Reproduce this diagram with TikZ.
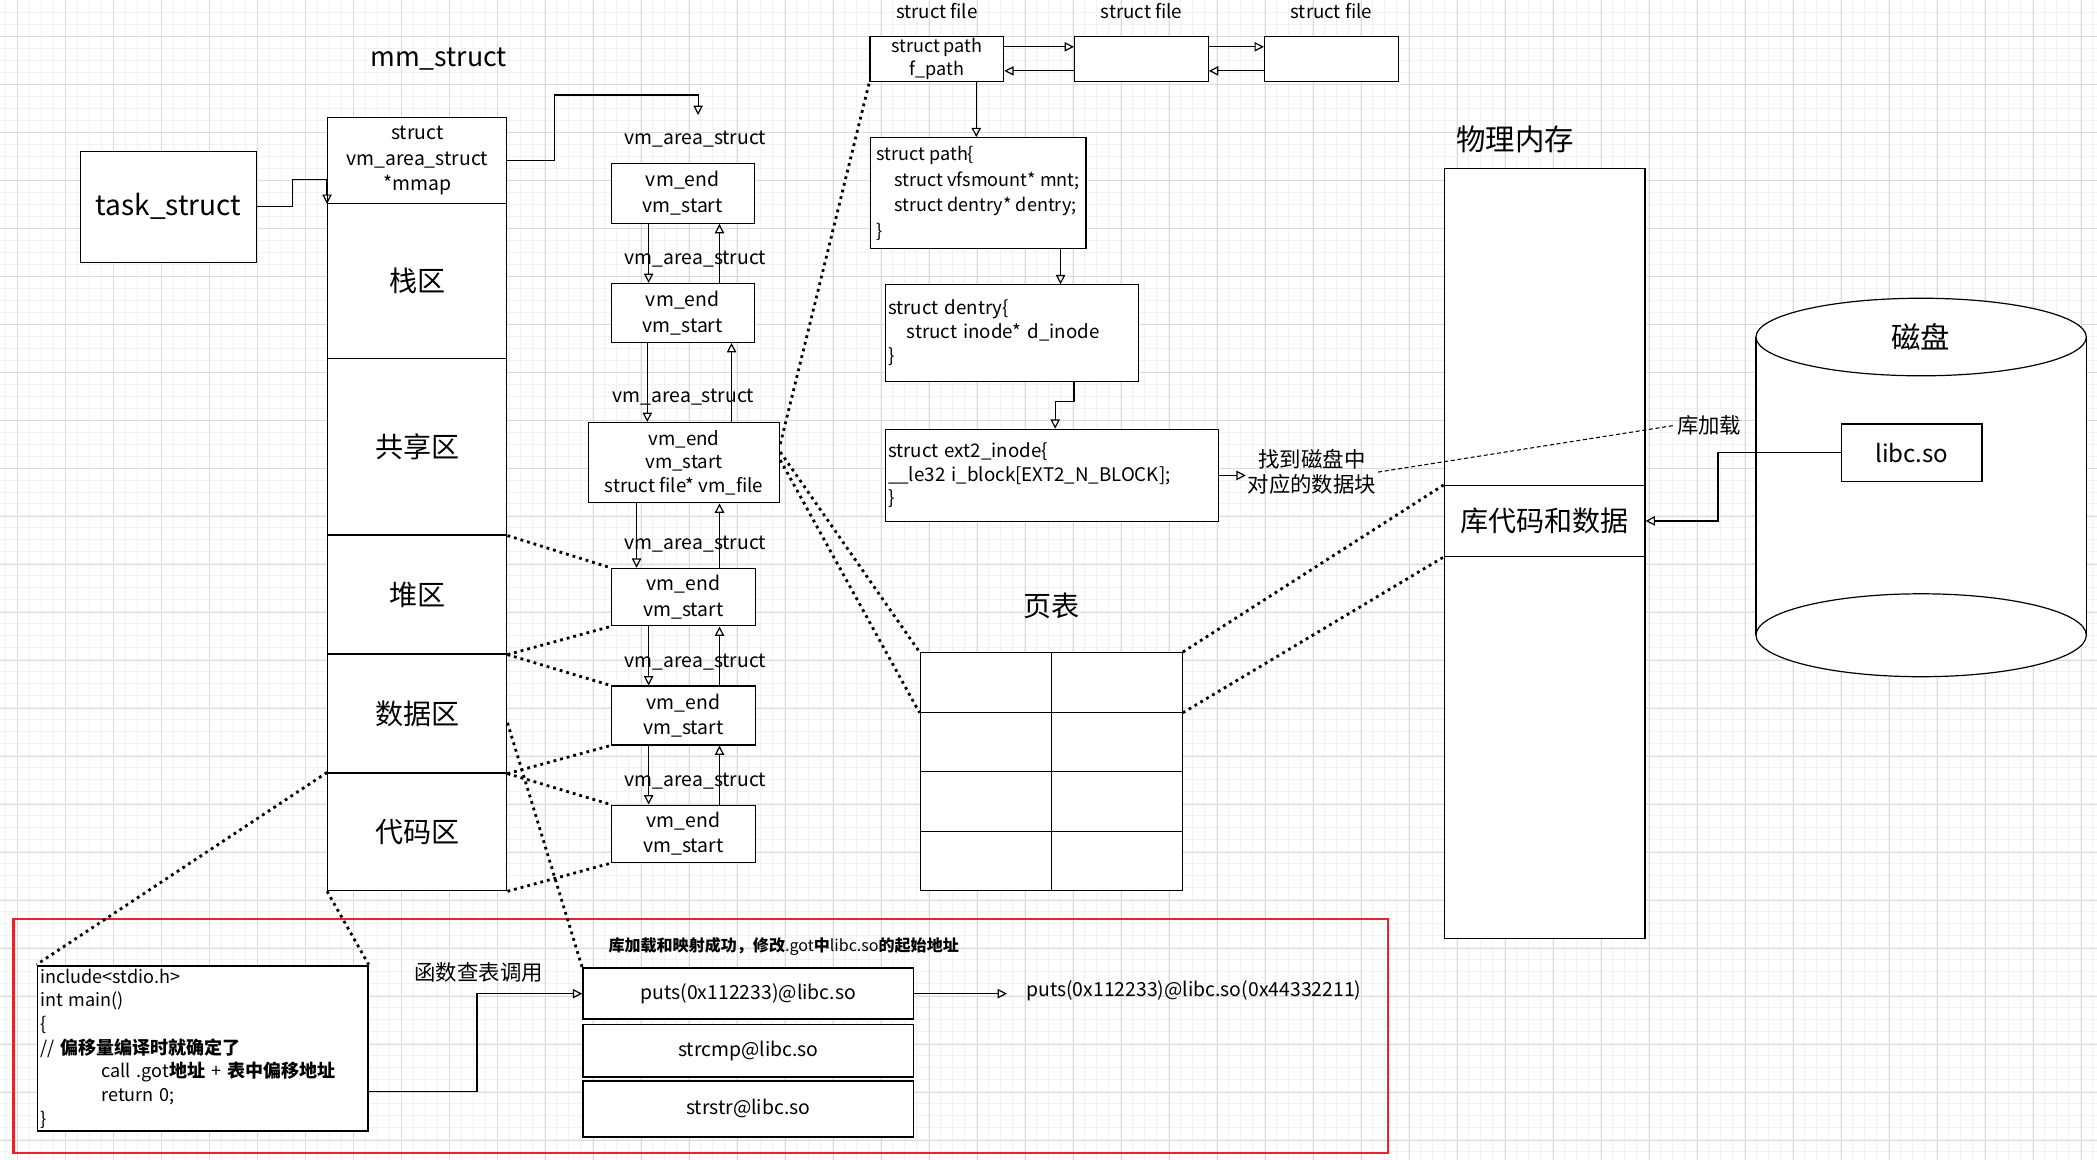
\documentclass[tikz,border=0pt]{standalone}
\usepackage{fontspec}
\setmainfont{Noto Sans CJK SC}
\usepackage{tikz}
\usetikzlibrary{positioning, shapes, arrows.meta}
\usepackage{xcolor}
\definecolor{framered}{HTML}{E8232B}
\newcommand\fsz[2]{\fontsize{#1pt}{#2pt}\selectfont}

\tikzset{
    box/.style={draw,line width=0.9pt,fill=white,inner sep=2pt,align=center},
    thickbox/.style={box,line width=1.4pt},
    codetext/.style={align=left,execute at begin node={\hyphenpenalty=10000}},
    lbl/.style={inner sep=1pt,align=center},
    dots/.style={line width=2.1pt,dash pattern=on 2.1pt off 3pt},
    libdash/.style={line width=0.8pt,dash pattern=on 3pt off 2pt},
    gridmajor/.style={draw=black!14,line width=0.6pt},
    gridminor/.style={draw=black!5,line width=0.5pt},
}

\begin{document}
\begin{tikzpicture}[x=1pt,y=-1pt,>={Triangle[open,length=7pt,width=7pt]},line width=0.9pt]
    \useasboundingbox (0,0) rectangle (1568,867);
    \fill[white] (0,0) rectangle (1568,867);
    \foreach \i in {0,...,174} \draw[gridminor] ({3.73+8.97*\i},0) -- ({3.73+8.97*\i},867);
    \foreach \j in {0,...,95} \draw[gridminor] (0,{8.96+8.97*\j}) -- (1568,{8.96+8.97*\j});
    \foreach \i in {0,...,43} \draw[gridmajor] ({12.7+35.89*\i},0) -- ({12.7+35.89*\i},867);
    \foreach \j in {0,...,23} \draw[gridmajor] (0,{26.9+35.89*\j}) -- (1568,{26.9+35.89*\j});

    % mm_struct
    \node[lbl,font=\fsz{20}{24}] (mmlabel) at (328,44) {mm\_struct};
    \node[box,minimum width=132pt,minimum height=83pt,font=\fsz{21}{24}] (task) at (126,154.5) {task\_struct};
    \node[box,minimum width=134pt,minimum height=64pt,font=\fsz{14.5}{19}] (mmhead) at (312,120) {struct\\vm\_area\_struct\\*mmap};
    \node[box,minimum width=134pt,minimum height=116pt,font=\fsz{21}{24}] (stack) at (312,210) {栈区};
    \node[box,minimum width=134pt,minimum height=132pt,font=\fsz{21}{24}] (shared) at (312,334) {共享区};
    \node[box,minimum width=134pt,minimum height=89pt,font=\fsz{21}{24}] (heap) at (312,444.5) {堆区};
    \node[box,minimum width=134pt,minimum height=89pt,font=\fsz{21}{24}] (data) at (312,533.5) {数据区};
    \node[box,minimum width=134pt,minimum height=88pt,font=\fsz{21}{24}] (code) at (312,622) {代码区};

    % vm_area_struct 链表
    \foreach \n/\y in {1/104,2/194,3/297,4/407,5/495,6/584}
        \node[lbl,font=\fsz{14.5}{17}] (vmlab\n) at ({\n==3 ? 511 : 520},\y) {vm\_area\_struct};
    \node[box,minimum width=107pt,minimum height=45pt,font=\fsz{14.5}{19}] (vm1) at (510.5,144.5) {vm\_end\\vm\_start};
    \node[box,minimum width=107pt,minimum height=44pt,font=\fsz{14.5}{19}] (vm2) at (510.5,234) {vm\_end\\vm\_start};
    \node[box,minimum width=143pt,minimum height=60pt,font=\fsz{14}{17.5}] (vm3) at (511.5,346) {vm\_end\\vm\_start\\struct file* vm\_file};
    \node[box,minimum width=108pt,minimum height=43pt,font=\fsz{14.5}{19}] (vm4) at (511,446.5) {vm\_end\\vm\_start};
    \node[box,minimum width=108pt,minimum height=44pt,font=\fsz{14.5}{19}] (vm5) at (511,535) {vm\_end\\vm\_start};
    \node[box,minimum width=108pt,minimum height=43pt,font=\fsz{14.5}{19}] (vm6) at (511,623.5) {vm\_end\\vm\_start};
    \coordinate (vmin) at (522,86);

    \draw[->] (task.east) -- ++(26,0) |- ([yshift=-14.5pt]mmhead.west) -- (mmhead.south west);
    \draw[->] (mmhead.east) -- ++(35,0) |- ([yshift=15pt]vmin) -- (vmin);
    \draw[->] ([xshift=-25.5pt]vm1.south) -- ([xshift=-25.5pt]vm1.south |- vm2.north);
    \draw[->] ([xshift=27.5pt]vm2.north) -- ([xshift=27.5pt]vm2.north |- vm1.south);
    \draw[->] ([xshift=-26.5pt]vm2.south) -- ([xshift=-26.5pt]vm2.south |- vm3.north);
    \draw[->] ([xshift=35.5pt]vm3.north) -- ([xshift=35.5pt]vm3.north |- vm2.south);
    \draw[->] ([xshift=-35.5pt]vm3.south) -- ([xshift=-35.5pt]vm3.south |- vm4.north);
    \draw[->] ([xshift=27pt]vm4.north) -- ([xshift=27pt]vm4.north |- vm3.south);
    \draw[->] ([xshift=-26pt]vm4.south) -- ([xshift=-26pt]vm4.south |- vm5.north);
    \draw[->] ([xshift=27pt]vm5.north) -- ([xshift=27pt]vm5.north |- vm4.south);
    \draw[->] ([xshift=-26pt]vm5.south) -- ([xshift=-26pt]vm5.south |- vm6.north);
    \draw[->] ([xshift=27pt]vm6.north) -- ([xshift=27pt]vm6.north |- vm5.south);

    % struct file
    \foreach \n/\x in {fA/700.5,fB/853.5,fC/995.5}{
        \node[lbl,font=\fsz{14}{17}] (\n lab) at (\x,8) {struct file};
        \node[box,minimum width=100pt,minimum height=34pt,inner sep=1pt] (\n) at (\x,44) {};
    }
    \node[lbl,font=\fsz{13.5}{17}] (fApath) at (fA) {struct path\\f\_path};
    \draw[->] ([yshift=9pt]fA.east) -- ([yshift=9pt]fB.west);
    \draw[->] ([yshift=-9pt]fB.west) -- ([yshift=-9pt]fA.east);
    \draw[->] ([yshift=9pt]fB.east) -- ([yshift=9pt]fC.west);
    \draw[->] ([yshift=-9pt]fC.west) -- ([yshift=-9pt]fB.east);

    \node[box,align=left,minimum width=161pt,minimum height=83pt,font=\fsz{13.5}{19}] (path) at (731.5,144.5)
        {struct path\{\\\hspace*{1em}struct vfsmount* mnt;\\\hspace*{1em}struct dentry* dentry;\\\}};
    \node[box,codetext,text width=185pt,minimum height=72pt,font=\fsz{14}{18}] (dentry) at (756.5,249)
        {struct dentry\{\\\hspace*{1em}struct inode* d\_inode\\\}};
    \node[box,codetext,text width=245pt,minimum height=69pt,font=\fsz{14}{17.5}] (inode) at (786.5,355.5)
        {struct ext2\_inode\{\\\_\_le32 i\_block[EXT2\_N\_BLOCK];\\\}};
    \node[lbl,font=\fsz{16}{18.5}] (find) at (981,353) {找到磁盘中\\对应的数据块};
    \draw[->] ([xshift=29.5pt]fA.south) -- ([xshift=29.5pt]fA.south |- path.north);
    \draw[->] ([xshift=61.5pt]path.south) -- ([xshift=61.5pt]path.south |- dentry.north);
    \draw[->] ([xshift=46.5pt]dentry.south) -- ++(0,15) -| ([xshift=2.5pt]inode.north);
    \draw[->] (inode.east) -- (inode.east -| find.west);

    % 页表
    \node[lbl,font=\fsz{21}{24}] (ptlabel) at (786,453) {页表};
    \foreach \r in {1,...,4}
        \foreach \c in {1,2}
            \node[box,minimum width=98pt,minimum height=44.5pt] (pt\r\c) at ({737+98*(\c-1)},{510.25+44.5*(\r-1)}) {};

    % 物理内存
    \node[lbl,font=\fsz{22}{26}] (pmlabel) at (1133,104) {物理内存};
    \node[box,minimum width=150pt,minimum height=237pt] (pmtop) at (1155,244.5) {};
    \node[box,minimum width=150pt,minimum height=53pt,font=\fsz{21}{24}] (libmem) at (1155,389.5) {库代码和数据};
    \node[box,minimum width=150pt,minimum height=286pt] (pmbot) at (1155,559) {};

    % 磁盘
    \fill[white] (1313,252) rectangle (1560,475);
    \draw[fill=white] (1436.5,475) ellipse [x radius=123.5pt,y radius=31pt];
    \draw (1313,252) -- (1313,475);
    \draw (1560,252) -- (1560,475);
    \draw[fill=white] (1436.5,252) ellipse [x radius=123.5pt,y radius=29pt];
    \node[lbl,font=\fsz{22}{26}] (disklabel) at (1436,252) {磁盘};
    \node[box,minimum width=105pt,minimum height=43pt,font=\fsz{18}{22}] (libc) at (1429.5,338.5) {libc.so};
    \node[lbl,font=\fsz{16}{18.5}] (libload) at (1278,318) {库加载};
    \draw[->] (libc.west) -- ++(-92,0) |- (libmem.east);

    % 红框: got 表
    \node[draw=framered,line width=1.8pt,minimum width=1028pt,minimum height=175pt,inner sep=0pt] (frame) at (524,774.5) {};
    \node[thickbox,codetext,text width=243pt,minimum height=124pt,font=\fsz{13.5}{17.7}] (codebox) at (151.5,784)
        {include<stdio.h>\\int main()\\\{\\// \textbf{偏移量编译时就确定了}\\\hspace*{3.4em}call .got\textbf{地址} + \textbf{表中偏移地址}\\\hspace*{3.4em}return 0;\\\}};
    \node[lbl,font=\fsz{16}{18.5}] (lookup) at (358,727) {函数查表调用};
    \node[lbl,font=\fsz{12}{14}] (gotnote) at (586,708) {\textbf{库加载和映射成功，修改}.got\textbf{中}libc.so\textbf{的起始地址}};
    \node[thickbox,minimum width=247pt,minimum height=38pt,font=\fsz{14.5}{17}] (puts) at (559.5,743) {puts(0x112233)@libc.so};
    \node[thickbox,minimum width=247pt,minimum height=39pt,font=\fsz{14.5}{17}] (strcmp) at (559.5,785.5) {strcmp@libc.so};
    \node[thickbox,minimum width=247pt,minimum height=42pt,font=\fsz{14.5}{17}] (strstr) at (559.5,829) {strstr@libc.so};
    \node[lbl,anchor=west,font=\fsz{14.5}{17}] (result) at (766,741) {puts(0x112233)@libc.so(0x44332211)};
    \draw[->] ([yshift=-32pt]codebox.east) -- ++(81,0) |- (puts.west);
    \draw[->] (puts.east) -- ([xshift=-13pt]puts.east -| result.west);

    % 虚线
    \draw[dots] (shared.south east) -- (vm4.north west);
    \draw[dots] (heap.south east) -- (vm4.south west);
    \draw[dots] (heap.south east) -- (vm5.north west);
    \draw[dots] (data.south east) -- (vm5.south west);
    \draw[dots] (data.south east) -- (vm6.north west);
    \draw[dots] (code.south east) -- (vm6.south west);
    \draw[dots] ([yshift=-7pt]data.east) -- (puts.north west);
    \draw[dots] (code.north west) -- (codebox.north west);
    \draw[dots] (code.south west) -- (codebox.north east);
    \draw[dots] ([yshift=14pt]vm3.east) -- (fA.south west);
    \draw[dots] ([yshift=8pt]vm3.east) -- (pt11.north west);
    \draw[dots] ([yshift=2pt]vm3.east) -- (pt11.south west);
    \draw[dots] (pt12.north east) -- (libmem.north west);
    \draw[dots] (pt12.south east) -- (libmem.south west);
    \draw[libdash] (find.east) -- (libload.west);
\end{tikzpicture}
\end{document}
